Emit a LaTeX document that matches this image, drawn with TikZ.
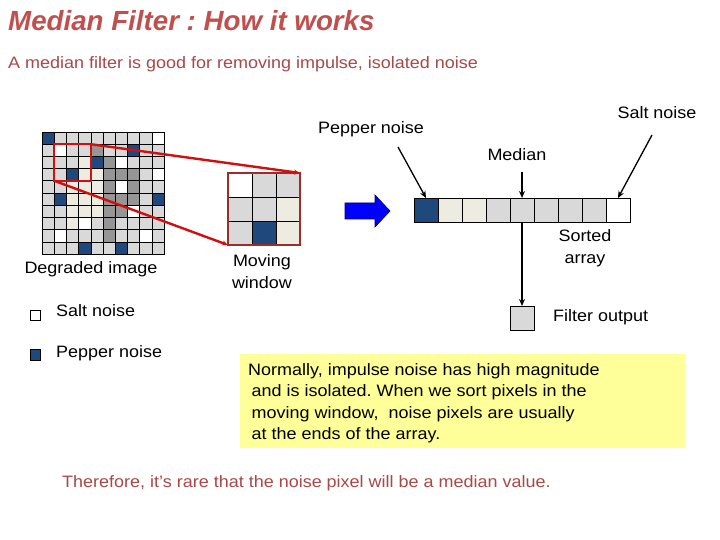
\documentclass[tikz,border=0pt]{standalone}
\usepackage{fontspec}
\setmainfont[FakeStretch=1.09]{Liberation Sans}
\newfontfamily\titlefont{Liberation Sans}
\usetikzlibrary{arrows.meta}
\frenchspacing
\definecolor{cG}{HTML}{D9D9D9}
\definecolor{cW}{HTML}{FFFFFF}
\definecolor{cB}{HTML}{1F497D}
\definecolor{cD}{HTML}{969696}
\definecolor{cC}{HTML}{EEECE1}
\definecolor{titlered}{HTML}{C0504D}
\definecolor{textred}{HTML}{A84848}
\definecolor{linered}{HTML}{D01010}
\definecolor{winred}{HTML}{9B2D2D}
\definecolor{notefill}{HTML}{FFFF99}
\definecolor{arrowblue}{HTML}{0000FF}
\begin{document}
\begin{tikzpicture}[x=1pt,y=-1pt,
  gcell/.style={draw=black, line width=0.6pt, minimum size=12.2pt, inner sep=0pt, outer sep=0pt},
  wcell/.style={draw=black, line width=0.7pt, minimum size=24pt, inner sep=0pt, outer sep=0pt},
  lbl/.style={font=\fontsize{16.5}{22}\selectfont, inner sep=0pt},
  blk/.style={-{Stealth[length=7pt,width=6pt]}, line width=1.3pt},
  redl/.style={draw=linered, line width=2.4pt, -{Stealth[length=6pt,width=5pt]}}]
\useasboundingbox[fill=white] (0,0) rectangle (720,540);

% title
\node[anchor=base west, inner sep=0pt, text=titlered, font=\titlefont\fontsize{27.7}{30}\selectfont\bfseries\itshape] (title) at (8,31) {Median Filter : How it works};
\node[lbl, anchor=base west, text=textred] (sub) at (8,68.5) {A median filter is good for removing impulse, isolated noise};

% degraded image grid
\foreach \rowlist [count=\r from 0] in {
  {B,G,G,G,G,G,G,G,G,W},
  {G,W,G,G,D,G,G,B,G,G},
  {G,G,G,C,B,D,W,G,G,G},
  {G,G,B,C,C,D,D,D,G,W},
  {G,G,C,C,C,D,W,D,G,G},
  {G,B,C,C,C,D,D,D,G,B},
  {G,G,C,C,C,D,D,W,G,G},
  {G,G,C,W,G,D,G,G,G,G},
  {G,W,G,G,G,D,G,G,W,G},
  {G,G,G,B,G,G,B,G,G,G}}{
  \foreach \c [count=\k from 0] in \rowlist {
    \node[gcell, fill=c\c] (g\r-\k) at ({48.1+12.2*\k},{138.1+12.2*\r}) {};
  }
}
\node[draw=linered, line width=2pt, minimum size=36.6pt, inner sep=0pt, outer sep=0pt] (rbox) at (72.5,162.5) {};

% moving window
\foreach \rowlist [count=\r from 0] in {{W,G,G},{G,G,C},{G,B,C}}{
  \foreach \c [count=\k from 0] in \rowlist {
    \node[wcell, fill=c\c] (w\r-\k) at ({240+24*\k},{185+24*\r}) {};
  }
}
\node[draw=winred, line width=1.6pt, minimum size=72pt, inner sep=0pt, outer sep=0pt] (win) at (264,209) {};

\draw[redl] (rbox.north east) -- (win.north east);
\draw[redl] (rbox.south west) -- (win.south west);

% blue arrow
\draw[fill=arrowblue, draw=blue!40!black, line width=0.6pt] (345,203) -- (375,203) -- (375,195) -- (390,211) -- (375,227) -- (375,219) -- (345,219) -- cycle;

% sorted array
\foreach \c [count=\k from 0] in {B,C,C,G,G,G,G,G,W} {
  \node[wcell, fill=c\c] (a\k) at ({426+24*\k},210) {};
}
\node[wcell, fill=cG] (out) at (522,318) {};

% labels
\node[lbl, anchor=base] (pep) at (371,134) {Pepper noise};
\node[lbl, anchor=base] (med) at (517,161) {Median};
\node[lbl, anchor=base] (salt) at (657,119) {Salt noise};
\node[lbl, align=center, anchor=center] (sorted) at (585,248) {Sorted\\array};
\node[lbl, anchor=base west] (fout) at (553,321) {Filter output};
\node[lbl, anchor=base] (deg) at (91,273) {Degraded image};
\node[lbl, align=center, anchor=center] (mw) at (262,272) {Moving\\window};

\coordinate (pepS) at (398,147);
\coordinate (medS) at (522,172);
\coordinate (saltS) at (652,135);
\draw[blk] (pepS) -- (a0.north);
\draw[blk] (medS) -- (a4.north);
\draw[blk] (saltS) -- (a8.north);
\draw[blk] (a4.south) -- (out.north);

% legend
\node[draw=black, line width=0.6pt, fill=white, minimum size=10.5pt, inner sep=0pt] (lsalt) at (35.5,315.5) {};
\node[lbl, anchor=base west] (lsaltt) at (56,316) {Salt noise};
\node[draw=black, line width=0.6pt, fill=cB, minimum size=10.5pt, inner sep=0pt] (lpep) at (35.5,355) {};
\node[lbl, anchor=base west] (lpept) at (56,357) {Pepper noise};

% note box
\node[fill=notefill, minimum width=445pt, minimum height=94pt, inner sep=0pt] (note) at (462.5,400.5) {};
\node[lbl, anchor=base west] (n1) at (248,375) {Normally, impulse noise has high magnitude};
\node[lbl, anchor=base west] (n2) at (251.5,396.5) {and is isolated. When we sort pixels in the};
\node[lbl, anchor=base west] (n3) at (251.5,418) {moving window,\ \ noise pixels are usually};
\node[lbl, anchor=base west] (n4) at (251.5,439.5) {at the ends of the array.};

\node[lbl, anchor=base west, text=textred] (concl) at (62,487) {Therefore, it’s rare that the noise pixel will be a median value.};
\end{tikzpicture}
\end{document}
